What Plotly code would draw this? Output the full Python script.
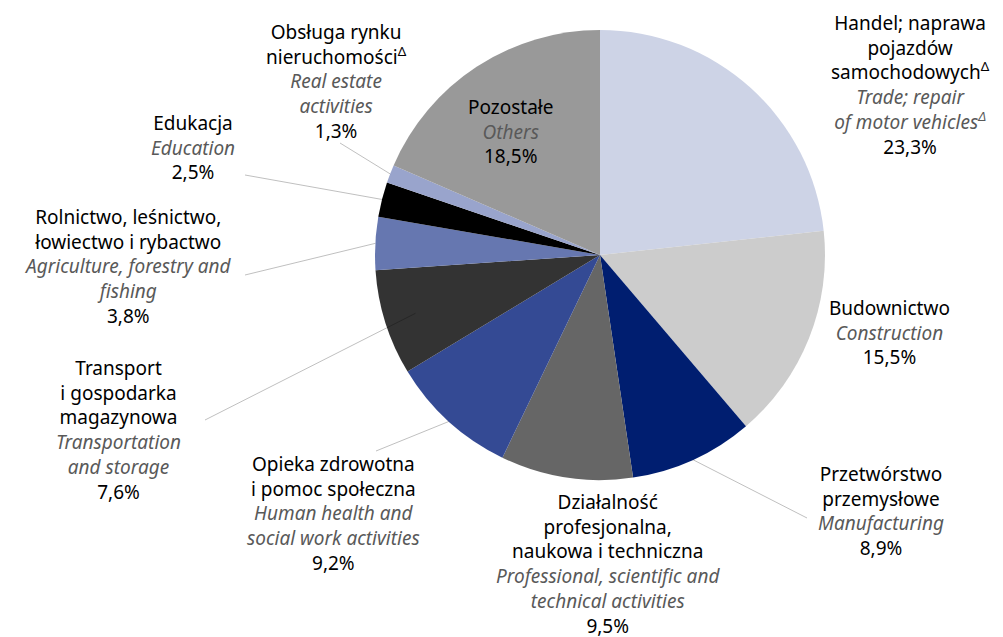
import math
import plotly.graph_objects as go

# ---- data ----
labels_pl = ["Handel; naprawa<br>pojazdów<br>samochodowych<sup>Δ</sup>",
             "Budownictwo",
             "Przetwórstwo<br>przemysłowe",
             "Działalność<br>profesjonalna,<br>naukowa i techniczna",
             "Opieka zdrowotna<br>i pomoc społeczna",
             "Transport<br>i gospodarka<br>magazynowa",
             "Rolnictwo, leśnictwo,<br>łowiectwo i rybactwo",
             "Edukacja",
             "Obsługa rynku<br>nieruchomości<sup>Δ</sup>",
             "Pozostałe"]
labels_en = ["Trade; repair<br>of motor vehicles<sup>Δ</sup>",
             "Construction",
             "Manufacturing",
             "Professional, scientific and<br>technical activities",
             "Human health and<br>social work activities",
             "Transportation<br>and storage",
             "Agriculture, forestry and<br>fishing",
             "Education",
             "Real estate<br>activities",
             "Others"]
values = [23.3, 15.5, 8.9, 9.5, 9.2, 7.6, 3.8, 2.5, 1.3, 18.5]
colors = ["#cdd3e6", "#cccccc", "#001e70", "#666666", "#344a94",
          "#333333", "#6677b0", "#000000", "#99a4cc", "#999999"]

# ---- layout geometry (pixels) ----
W, H = 1003, 637
CX, CY, R = 600, 255, 225
label_pos = [(910, 85), (889, 332), (881, 511), (608, 564), (333, 513),
             (118, 430), (128, 266), (193, 148), (336, 81), (510, 131)]
# leader line label-side anchors (None = no line)
leader_start = [None, None, (807, 518), None, (376, 451),
                (205, 420), (245, 275), (245, 175), (340, 143), None]
# how far into the slice the leader line reaches (fraction of radius)
leader_depth = [1, 1, 1, 1, 1, 0.86, 1, 1, 1, 1]

def px(x):
    return x / W

def py(y):
    return 1 - y / H

fig = go.Figure()
fig.add_trace(go.Pie(
    values=values,
    labels=[l.replace("<br>", " ") for l in labels_pl],
    marker=dict(colors=colors, line=dict(width=0)),
    sort=False, direction="clockwise", rotation=0,
    textinfo="none", hoverinfo="label+percent", showlegend=False,
    domain=dict(x=[px(CX - R), px(CX + R)], y=[py(CY + R), py(CY - R)]),
))

total = sum(values)
cum = 0
shapes = []
annotations = []
for i, v in enumerate(values):
    mid = (cum + v / 2) / total * 2 * math.pi
    cum += v
    rr = R * leader_depth[i]
    ex = CX + rr * math.sin(mid)
    ey = CY - rr * math.cos(mid)
    if leader_start[i] is not None:
        sx, sy = leader_start[i]
        shapes.append(dict(type="line", xref="paper", yref="paper",
                           x0=px(sx), y0=py(sy), x1=px(ex), y1=py(ey),
                           line=dict(color="rgba(0,0,0,0.25)", width=1)))
    pct = f"{v:.1f}%".replace(".", ",")
    text = (f"{labels_pl[i]}<br><i><span style='color:#595959'>{labels_en[i]}</span></i>"
            f"<br>{pct}")
    lx, ly = label_pos[i]
    annotations.append(dict(x=px(lx), y=py(ly), xref="paper", yref="paper",
                            text=text, showarrow=False, align="center",
                            xanchor="center", yanchor="middle",
                            font=dict(size=19, color="#000000")))

fig.update_layout(
    width=W, height=H,
    margin=dict(l=0, r=0, t=0, b=0),
    paper_bgcolor="white", plot_bgcolor="white",
    font=dict(family="Noto Sans, Open Sans, sans-serif", size=19),
    shapes=shapes, annotations=annotations,
)
fig.write_html("out.html", config={"displayModeBar": False},
               post_script="document.body.style.margin='0';document.body.style.overflow='hidden';")
